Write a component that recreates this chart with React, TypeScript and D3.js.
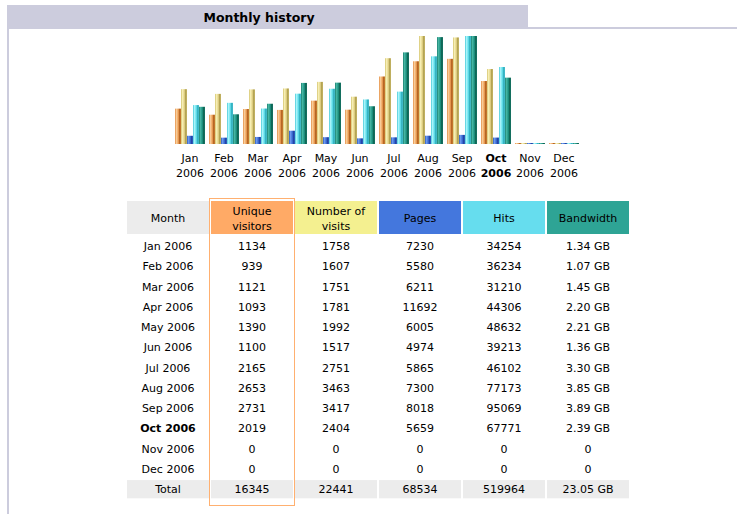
import React from 'react';
import * as d3 from 'd3';

// monthly stats, 2006
const months = ['Jan', 'Feb', 'Mar', 'Apr', 'May', 'Jun', 'Jul', 'Aug', 'Sep', 'Oct', 'Nov', 'Dec'];
const year = '2006';
const currentMonth = 'Oct';
const uniqueVisitors = [1134, 939, 1121, 1093, 1390, 1100, 2165, 2653, 2731, 2019, 0, 0];
const visits = [1758, 1607, 1751, 1781, 1992, 1517, 2751, 3463, 3417, 2404, 0, 0];
const pages = [7230, 5580, 6211, 11692, 6005, 4974, 5865, 7300, 8018, 5659, 0, 0];
const hits = [34254, 36234, 31210, 44306, 48632, 39213, 46102, 77173, 95069, 67771, 0, 0];
const bandwidth = [1.34, 1.07, 1.45, 2.2, 2.21, 1.36, 3.3, 3.85, 3.89, 2.39, 0, 0];
const totals = ['16345', '22441', '68534', '519964', '23.05 GB'];
const headers = [['Month'], ['Unique', 'visitors'], ['Number of', 'visits'], ['Pages'], ['Hits'], ['Bandwidth']];

const FONT = '"DejaVu Sans", Verdana, sans-serif';

const App = () => {
  const width = 737;
  const height = 514;

  // bar chart area
  const baseline = 144;
  const maxBar = 108;

  const x = d3.scaleBand().domain(months).range([173, 581]);
  const series = ['u', 'v', 'p', 'h', 'k'];
  const xInner = d3.scaleBand().domain(series).range([2, 32]);

  const yVisits = d3.scaleLinear().domain([0, d3.max(visits)]).range([0, maxBar]);
  const yHits = d3.scaleLinear().domain([0, d3.max(hits)]).range([0, maxBar]);
  const yBw = d3.scaleLinear().domain([0, d3.max(bandwidth)]).range([0, maxBar]);

  const seriesDef = [
    { key: 'u', vals: uniqueVisitors, scale: yVisits },
    { key: 'v', vals: visits, scale: yVisits },
    { key: 'p', vals: pages, scale: yHits },
    { key: 'h', vals: hits, scale: yHits },
    { key: 'k', vals: bandwidth, scale: yBw },
  ];

  const gradStops = {
    u: ['#E49048', '#F8CC98', '#EEA058', '#A85818', '#D88838'],
    v: ['#D4C470', '#F6EEB4', '#E4D488', '#A89848', '#D0C070'],
    p: ['#2E5CC0', '#6C98EC', '#3C6CD4', '#1C3C9C', '#3868CC'],
    h: ['#48C8D8', '#A8F4FA', '#64E0EC', '#2CA8B8', '#4CC4D4'],
    k: ['#1C8070', '#46B4A2', '#1E9482', '#0C5C4C', '#187C6C'],
  };

  const headColors = ['#ECECEC', '#FFAA66', '#F4F090', '#4477DD', '#66DDEE', '#2EA495'];

  // table layout
  const cols = headers.map((h, i) => 'c' + i);
  const colX = d3.scaleBand().domain(cols).range([127, 629]).paddingInner(2 / 84);
  const rowKeys = months.map(m => m).concat(['Total']);
  const rowY = d3.scaleBand().domain(rowKeys).range([237, 237 + 13 * 20.1]).paddingInner(2 / 20);

  const fmtBw = v => (v === 0 ? '0' : v.toFixed(2) + ' GB');

  const rows = months.map((m, i) => [
    m + ' ' + year,
    String(uniqueVisitors[i]),
    String(visits[i]),
    String(pages[i]),
    String(hits[i]),
    fmtBw(bandwidth[i]),
  ]);

  return (
    <svg
      width={width}
      height={height}
      viewBox={`0 0 ${width} ${height}`}
      style={{ position: 'absolute', left: 0, top: 0, background: '#FFFFFF' }}
      fontFamily={FONT}
    >
      <defs>
        {series.map(k => (
          <linearGradient key={k} id={'bar-' + k} x1='0' x2='1' y1='0' y2='0'>
            {gradStops[k].map((c, j) => (
              <stop key={j} offset={`${[0, 25, 55, 80, 100][j]}%`} stopColor={c} />
            ))}
          </linearGradient>
        ))}
      </defs>

      {/* frame + title */}
      <rect x={7} y={5} width={521} height={22} fill='#CCCCDD' />
      <rect x={7} y={27} width={730} height={2} fill='#CCCCDD' />
      <rect x={7} y={5} width={2} height={509} fill='#CCCCDD' />
      <text x={259} y={22} textAnchor='middle' fontSize={12.5} fontWeight='bold' fill='#000'>
        Monthly history
      </text>

      {/* bars */}
      {months.map((m, i) => (
        <g key={m} transform={`translate(${x(m)},0)`}>
          {seriesDef.map(s => {
            const h = Math.max(1, s.scale(s.vals[i]));
            return (
              <rect
                key={s.key}
                x={xInner(s.key)}
                y={baseline - h}
                width={xInner.bandwidth()}
                height={h}
                fill={`url(#bar-${s.key})`}
              />
            );
          })}
          <text
            x={x.bandwidth() / 2}
            y={162}
            textAnchor='middle'
            fontSize={11}
            fontWeight={m === currentMonth ? 'bold' : 'normal'}
            fill='#000'
          >
            {m}
          </text>
          <text
            x={x.bandwidth() / 2}
            y={177}
            textAnchor='middle'
            fontSize={11}
            fontWeight={m === currentMonth ? 'bold' : 'normal'}
            fill='#000'
          >
            {year}
          </text>
        </g>
      ))}

      {/* table header */}
      {headers.map((lines, c) => {
        const cx = colX(cols[c]) + colX.bandwidth() / 2;
        return (
          <g key={'h' + c}>
            <rect x={colX(cols[c])} y={201} width={colX.bandwidth()} height={33} fill={headColors[c]} />
            {lines.map((t, j) => (
              <text
                key={j}
                x={cx}
                y={lines.length === 1 ? 222 : 215 + j * 15}
                textAnchor='middle'
                fontSize={11}
                fill='#000'
              >
                {t}
              </text>
            ))}
          </g>
        );
      })}

      {/* table body */}
      {rows.map((r, i) => (
        <g key={'r' + i}>
          {r.map((t, c) => (
            <text
              key={c}
              x={colX(cols[c]) + colX.bandwidth() / 2}
              y={rowY(rowKeys[i]) + rowY.bandwidth() / 2 + 4}
              textAnchor='middle'
              fontSize={11}
              fontWeight={months[i] === currentMonth && c === 0 ? 'bold' : 'normal'}
              fill='#000'
            >
              {t}
            </text>
          ))}
        </g>
      ))}

      {/* totals */}
      {['Total'].concat(totals).map((t, c) => (
        <g key={'t' + c}>
          <rect
            x={colX(cols[c])}
            y={rowY('Total')}
            width={colX.bandwidth()}
            height={rowY.bandwidth()}
            fill='#ECECEC'
          />
          <text
            x={colX(cols[c]) + colX.bandwidth() / 2}
            y={rowY('Total') + rowY.bandwidth() / 2 + 4}
            textAnchor='middle'
            fontSize={11}
            fill='#000'
          >
            {t}
          </text>
        </g>
      ))}

      {/* highlight around unique visitors column */}
      <rect
        x={colX('c1') - 1.5}
        y={198.5}
        width={colX.bandwidth() + 3}
        height={307}
        fill='none'
        stroke='#FFB070'
        strokeWidth={1}
      />
    </svg>
  );
};

export default App;
